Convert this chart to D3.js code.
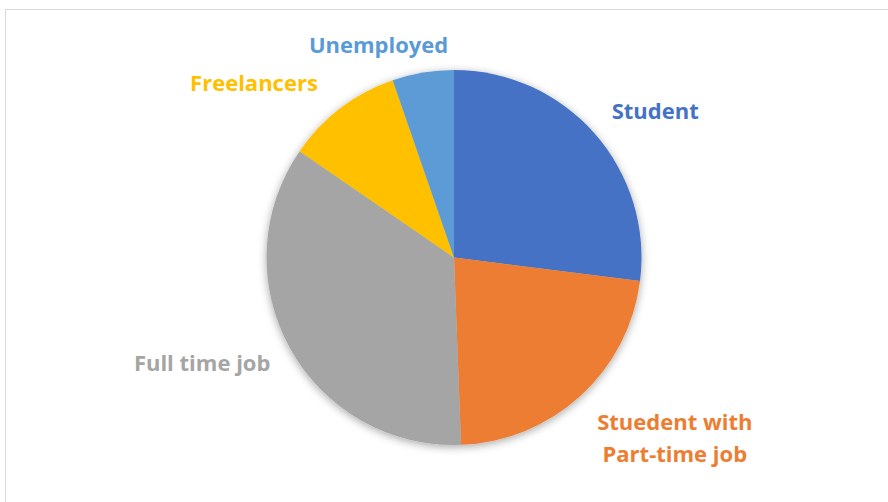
<!DOCTYPE html>
<html>
<head>
<meta charset="utf-8">
<script src="https://cdn.jsdelivr.net/npm/d3@7"></script>
<style>
  html, body { margin: 0; padding: 0; background: #fff; }
  svg { display: block; }
</style>
</head>
<body>
<svg id="chart" width="888" height="502"></svg>
<script>
// Occupation breakdown (share, %)
const categories = ["Student", "Stuedent with Part-time job", "Full time job", "Freelancers", "Unemployed"];
const labelLines = [["Student"], ["Stuedent with", "Part-time job"], ["Full time job"], ["Freelancers"], ["Unemployed"]];
const shares = [27.0, 22.4, 35.2, 10.1, 5.3];
const colors = ["#4472C4", "#ED7D31", "#A5A5A5", "#FFC000", "#5B9BD5"];

const W = 888, H = 502;
const cx = 454, cy = 257.5, R = 187.5;

const svg = d3.select("#chart");

// chart-area frame
svg.append("rect")
  .attr("x", 5.5).attr("y", 9.5)
  .attr("width", 1000).attr("height", 1000)
  .attr("fill", "#fff").attr("stroke", "#d9d9d9").attr("stroke-width", 1);

const defs = svg.append("defs");
const f = defs.append("filter").attr("id", "shadow")
  .attr("x", "-20%").attr("y", "-20%").attr("width", "140%").attr("height", "140%");
f.append("feDropShadow")
  .attr("dx", 0).attr("dy", 2).attr("stdDeviation", 4)
  .attr("flood-color", "#000").attr("flood-opacity", 0.35);

const data = categories.map((c, i) => ({ name: c, value: shares[i], color: colors[i], lines: labelLines[i] }));

const pie = d3.pie().sort(null).value(d => d.value).startAngle(0).endAngle(2 * Math.PI);
const arc = d3.arc().innerRadius(0).outerRadius(R);
const arcs = pie(data);

const g = svg.append("g").attr("transform", `translate(${cx},${cy})`);
const slices = g.append("g").attr("filter", "url(#shadow)");
slices.selectAll("path")
  .data(arcs)
  .join("path")
  .attr("d", arc)
  .attr("fill", d => d.data.color);

// label placement: polar offset from each slice's mid-angle (angle shift in degrees, radius)
const labelPlace = [
  { dAng: 5.3, r: 249 },
  { dAng: -8.3, r: 285 },
  { dAng: 6.1, r: 273 },
  { dAng: -11.6, r: 265.6 },
  { dAng: -10.0, r: 225.5 }
];

const labels = svg.append("g")
  .attr("font-family", "'Open Sans', Lato, sans-serif")
  .attr("font-weight", 700)
  .attr("font-size", 22)
  .attr("text-anchor", "middle");

arcs.forEach((a, i) => {
  const mid = (a.startAngle + a.endAngle) / 2 + labelPlace[i].dAng * Math.PI / 180;
  const r = labelPlace[i].r;
  const x = cx + r * Math.sin(mid);
  const y = cy - r * Math.cos(mid);
  const n = a.data.lines.length;
  const lh = 32;
  const t = labels.append("text")
    .attr("fill", a.data.color)
    .attr("x", x)
    .attr("y", y - (n - 1) * lh / 2 + 8);
  a.data.lines.forEach((ln, k) => {
    t.append("tspan").attr("x", x).attr("dy", k === 0 ? 0 : lh).text(ln);
  });
});
</script>
</body>
</html>
